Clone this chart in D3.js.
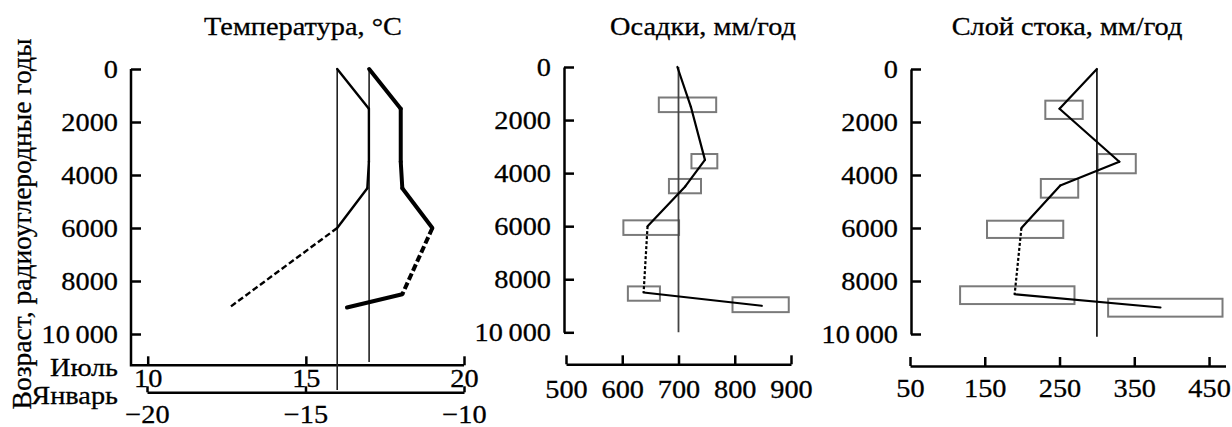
<!DOCTYPE html>
<html>
<head>
<meta charset="utf-8">
<script src="https://cdn.jsdelivr.net/npm/d3@7"></script>
<style>
  body { margin: 0; background: #fff; }
  svg { display: block; font-family: "Liberation Serif", "Times New Roman", serif; }
  svg text { stroke: #000; stroke-width: 0.3px; }
</style>
</head>
<body>
<svg id="chart" width="1232" height="427"></svg>
<script>
// ---- data ----
var yearTicks = [0, 2000, 4000, 6000, 8000, 10000];

// temperature: January (thin) and July (thick); dashed = per segment
var janYears = [0, 1500, 3500, 4500, 6000, 9000];
var janTemp = [-14, -13, -13, -13.05, -14, -17.4];
var janDashed = [false, false, false, false, true];

var julYears = [0, 1500, 3500, 4500, 6000, 8500, 9000];
var julTemp = [17, 18, 18, 18.05, 19, 18.05, 16.3];
var julDashed = [false, false, false, false, true, false];

var julTicks = [10, 15, 20];
var janTicks = [-20, -15, -10];
var julModern = 17, janModern = -14;

// precipitation, mm/yr
var precYears = [0, 1500, 3500, 4500, 6000, 8500, 9000];
var precVals = [698, 722, 747, 712, 645, 638, 848];
var precDashed = [false, false, false, false, true, false];
var precTicks = [500, 600, 700, 800, 900];
var precModern = 700;
// boxes: [min value, max value, from year, to year]
var precBoxes = [[665, 767, 1150, 1700], [723, 769, 3280, 3820], [683, 740, 4220, 4760],
                 [602, 701, 5780, 6330], [610, 667, 8270, 8810], [796, 896, 8680, 9240]];

// runoff, mm/yr
var runYears = [0, 1500, 3500, 4400, 6000, 8500, 9000];
var runVals = [300, 250, 330, 251, 199, 190, 385];
var runDashed = [false, false, false, false, true, false];
var runTicks = [50, 150, 250, 350, 450];
var runModern = 300;
var runBoxes = [[231, 281, 1195, 1885], [301, 352, 3210, 3935], [225, 275, 4150, 4855],
                [153, 255, 5725, 6375], [117, 270, 8200, 8870], [315, 468, 8670, 9345]];

var svg = d3.select("#chart");
var FS = 26;
var FONT = "Liberation Serif, Times New Roman, serif";
var STRETCH = 1.09; // the scanned figure's lettering is a bit wider than the font

function fmtYear(d) { return d === 10000 ? "10\u2009000" : String(d); }

function styleAxis(g) {
  g.attr("font-size", FS).attr("font-family", FONT);
  g.selectAll("path, line").attr("stroke", "#000").attr("stroke-width", 2.5);
  g.selectAll("text").attr("fill", "#000");
}

// draw a polyline segment by segment so some parts can be dashed
function drawCurve(xs, ys, dashed, x, y, width, dash) {
  for (var i = 0; i < xs.length - 1; i++) {
    svg.append("line")
      .attr("x1", x(ys[i])).attr("y1", y(xs[i]))
      .attr("x2", x(ys[i + 1])).attr("y2", y(xs[i + 1]))
      .attr("stroke", "#000").attr("stroke-width", width)
      .attr("stroke-linecap", dashed[i] ? "butt" : "round")
      .attr("stroke-dasharray", dashed[i] ? dash : null);
  }
}

function title(x, txt) {
  svg.append("text").attr("x", x).attr("y", 35).attr("text-anchor", "middle")
    .attr("font-size", FS).attr("font-family", FONT).text(txt);
}

function yearAxis(x0, y) {
  var g = svg.append("g").attr("transform", "translate(" + x0 + ",0)")
    .call(d3.axisLeft(y).tickValues(yearTicks).tickFormat(fmtYear)
      .tickSizeInner(-10).tickSizeOuter(0).tickPadding(13));
  styleAxis(g);
  return g;
}

function boxes(data, x, y) {
  svg.append("g").selectAll("rect").data(data).join("rect")
    .attr("x", function (d) { return x(d[0]); })
    .attr("width", function (d) { return x(d[1]) - x(d[0]); })
    .attr("y", function (d) { return y(d[2]); })
    .attr("height", function (d) { return y(d[3]) - y(d[2]); })
    .attr("fill", "none").attr("stroke", "#7a7a7a").attr("stroke-width", 2);
}

// ---------------- panel 1 : temperature ----------------
var y1 = d3.scaleLinear().domain([0, 10000]).range([69, 334]);
var xJul = d3.scaleLinear().domain([10, 20]).range([147.7, 464]);
var xJan = d3.scaleLinear().domain([-20, -10]).range([147, 464]);

title(303, "Температура, °С");
var gy1 = yearAxis(131, y1);
gy1.select(".domain").remove();
svg.append("path").attr("d", "M131," + y1(0) + "V365.3H" + xJul(20))
  .attr("fill", "none").attr("stroke", "#000").attr("stroke-width", 2.5);

var gJul = svg.append("g").attr("transform", "translate(0,365.3)")
  .call(d3.axisBottom(xJul).tickValues(julTicks).tickSizeInner(-9).tickSizeOuter(0).tickPadding(3));
gJul.select(".domain").remove();
styleAxis(gJul);

var gJan = svg.append("g").attr("transform", "translate(0,392.3)")
  .call(d3.axisBottom(xJan).tickValues(janTicks).tickSizeInner(-6).tickSizeOuter(0).tickPadding(12));
styleAxis(gJan);

svg.append("text").attr("x", 118).attr("y", 376).attr("text-anchor", "end")
  .attr("font-size", FS).attr("font-family", FONT).text("Июль");
svg.append("text").attr("x", 118).attr("y", 404).attr("text-anchor", "end")
  .attr("font-size", FS).attr("font-family", FONT).text("Январь");

// modern reference lines
svg.append("line").attr("x1", xJan(janModern)).attr("x2", xJan(janModern))
  .attr("y1", y1(0)).attr("y2", 390).attr("stroke", "#222").attr("stroke-width", 1.6);
svg.append("line").attr("x1", xJul(julModern)).attr("x2", xJul(julModern))
  .attr("y1", y1(0)).attr("y2", 362).attr("stroke", "#222").attr("stroke-width", 1.6);

drawCurve(janYears, janTemp, janDashed, xJan, y1, 2.4, "6,3");
drawCurve(julYears, julTemp, julDashed, xJul, y1, 4, "7,3");

// ---------------- panel 2 : precipitation ----------------
var y2 = d3.scaleLinear().domain([0, 10000]).range([67, 332.3]);
var x2 = d3.scaleLinear().domain([500, 900]).range([566, 791]);

title(703, "Осадки, мм/год");
yearAxis(564, y2);
var gx2 = svg.append("g").attr("transform", "translate(0,364.3)")
  .call(d3.axisBottom(x2).tickValues(precTicks).tickSizeInner(-9).tickSizeOuter(0).tickPadding(15));
styleAxis(gx2);

boxes(precBoxes, x2, y2);
svg.append("line").attr("x1", x2(precModern)).attr("x2", x2(precModern))
  .attr("y1", y2(0)).attr("y2", y2(10000)).attr("stroke", "#444").attr("stroke-width", 1.8);
drawCurve(precYears, precVals, precDashed, x2, y2, 2.2, "3,2");

// ---------------- panel 3 : runoff ----------------
var y3 = d3.scaleLinear().domain([0, 10000]).range([69, 334]);
var x3 = d3.scaleLinear().domain([50, 472]).range([910, 1225.5]);

title(1067, "Слой стока, мм/год");
yearAxis(911, y3);
var gx3 = svg.append("g").attr("transform", "translate(0,366)")
  .call(d3.axisBottom(x3).tickValues(runTicks).tickSizeInner(-9).tickSizeOuter(0).tickPadding(13));
styleAxis(gx3);

boxes(runBoxes, x3, y3);
svg.append("line").attr("x1", x3(runModern)).attr("x2", x3(runModern))
  .attr("y1", y3(0)).attr("y2", 336.7).attr("stroke", "#222").attr("stroke-width", 1.8);
drawCurve(runYears, runVals, runDashed, x3, y3, 2.2, "3,2");

// widen every horizontal label around its anchor point
svg.selectAll("text").each(function () {
  var ax = +this.getAttribute("x") || 0;
  d3.select(this).attr("transform",
    "translate(" + ax + ",0) scale(" + STRETCH + ",1) translate(" + (-ax) + ",0)");
});

// vertical axis title (added after the stretch pass)
svg.append("text").attr("transform", "translate(31,224) rotate(-90)")
  .attr("text-anchor", "middle").attr("font-size", 27.5).attr("font-family", FONT)
  .text("Возраст, радиоуглеродные годы");
</script>
</body>
</html>
